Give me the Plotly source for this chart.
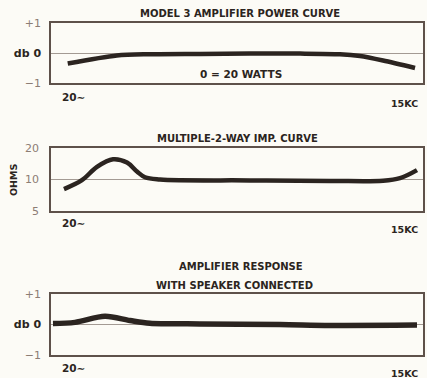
import plotly.graph_objects as go

# ---- data ----
power_freq = [18, 48, 93, 253, 689, 1871, 4160, 6210, 9840, 18660]
power_db = [-0.35, -0.08, -0.04, -0.03, -0.02, -0.02, -0.04, -0.1, -0.25, -0.5]

imp_freq = [16.7, 23.9, 32.3, 44.5, 58.9, 71.9, 84.4, 113.9, 689, 3410, 9840, 13800, 19400]
imp_ohms = [8.1, 9.85, 13.2, 15.6, 14.5, 11.9, 10.5, 10.0, 9.8, 9.7, 9.74, 10.3, 12.3]

resp_freq = [13.4, 20.8, 37.9, 62.5, 93, 253, 1253, 3410, 19400]
resp_db = [0.03, 0.07, 0.27, 0.13, 0.04, 0.02, 0.0, -0.03, -0.02]

titles = ["MODEL 3 AMPLIFIER POWER CURVE", "MULTIPLE-2-WAY IMP. CURVE",
          "AMPLIFIER RESPONSE", "WITH SPEAKER CONNECTED"]
x_ticks = [20, 15000]
x_ticktext = ["20∼", "15KC"]
db_ticks = [-1, 0, 1]
db_ticktext = ["−1", "db 0", "+1"]
ohm_ticks = [5, 10, 20]
ohm_ticktext = ["5", "10", "20"]
note_text = "0 = 20 WATTS"
ohm_label = "OHMS"

# ---- styling ----
BG = "#fcfbf6"
INK = "#2b2420"
LIGHT = "#8c7d74"
BOX = "#5e514a"
GRID = "#a39a93"
FONT = "DejaVu Sans"
W, H = 427, 378

def py(px):
    return 1 - px / H

def pxx(px):
    return px / W

XDOM = [51 / W, 423 / W]
XRANGE = [1.11, 4.34]

fig = go.Figure()

series = [(power_freq, power_db, "x", "y", 4.5, 0.8),
          (imp_freq, imp_ohms, "x2", "y2", 4.5, 1.0),
          (resp_freq, resp_db, "x3", "y3", 5.5, 0.9)]
for xs, ys, xa, ya, lw, sm in series:
    fig.add_trace(go.Scatter(x=xs, y=ys, xaxis=xa, yaxis=ya, mode="lines",
                             line=dict(color=INK, width=lw, shape="spline", smoothing=sm),
                             hoverinfo="skip", showlegend=False))

domains = [(23, 83), (148, 211), (294, 355)]
axis_common = dict(showline=True, mirror=True, linecolor=BOX, linewidth=1.5,
                   zeroline=False, ticks="", showgrid=False, automargin=False)

def dbtext():
    return [f'<span style="color:{LIGHT}">{db_ticktext[0]}</span>',
            f'<span style="color:{INK}"><b>{db_ticktext[1]}</b></span>',
            f'<span style="color:{LIGHT}">{db_ticktext[2]}</span>']

layout = dict(template="none", width=W, height=H, margin=dict(l=0, r=0, t=0, b=0, pad=0),
              paper_bgcolor=BG, plot_bgcolor=BG, showlegend=False,
              font=dict(family=FONT, color=INK, size=10))

for i, (top, bot) in enumerate(domains):
    sx = "" if i == 0 else str(i + 1)
    layout["xaxis" + sx] = dict(axis_common, type="log", range=XRANGE, domain=XDOM,
                               showticklabels=False, anchor="y" + sx)
    if i == 1:
        layout["yaxis" + sx] = dict(axis_common, type="log", range=[0.69897, 1.30103],
                                   domain=[py(bot), py(top)], anchor="x" + sx,
                                   tickvals=ohm_ticks, ticktext=ohm_ticktext,
                                   tickfont=dict(color=LIGHT, size=11, family=FONT),
                                   showgrid=True, gridcolor=GRID, gridwidth=1,
                                   ticklabelstandoff=8)
    else:
        layout["yaxis" + sx] = dict(axis_common, range=[-1, 1],
                                   domain=[py(bot), py(top)], anchor="x" + sx,
                                   tickvals=db_ticks, ticktext=dbtext(),
                                   tickfont=dict(size=11, family=FONT),
                                   showgrid=True, gridcolor=GRID, gridwidth=1,
                                   ticklabelstandoff=6)

fig.update_layout(**layout)

anns = []
title_pos = [(240, 14), (238, 138), (241, 266), (235, 285)]
for t, (tx, ty) in zip(titles, title_pos):
    anns.append(dict(text="<b>" + t + "</b>", x=pxx(tx), y=py(ty), xref="paper", yref="paper",
                     showarrow=False, font=dict(size=10, color=INK, family=FONT),
                     xanchor="center", yanchor="middle"))

# x labels per panel
xlab_y = [(97, 103), (223, 229), (368, 373)]
for i, (y20, y15) in enumerate(xlab_y):
    sx = "" if i == 0 else str(i + 1)
    anns.append(dict(text="<b>" + x_ticktext[0] + "</b>", x=1.301, xref="x" + sx,
                     y=py(y20), yref="paper", showarrow=False,
                     font=dict(size=10.5, color=INK, family=FONT), xanchor="center", yanchor="middle"))
    anns.append(dict(text="<b>" + x_ticktext[1] + "</b>", x=4.176, xref="x" + sx,
                     y=py(y15), yref="paper", showarrow=False,
                     font=dict(size=9.5, color=INK, family=FONT), xanchor="center", yanchor="middle"))

anns.append(dict(text="<b>" + note_text + "</b>", x=2.76, xref="x", y=py(74), yref="paper",
                 showarrow=False, font=dict(size=10.5, color=INK, family=FONT),
                 xanchor="center", yanchor="middle"))
anns.append(dict(text="<b>" + ohm_label + "</b>", x=pxx(13), xref="paper", y=py(180), yref="paper",
                 showarrow=False, textangle=-90, font=dict(size=9.5, color=INK, family=FONT),
                 xanchor="center", yanchor="middle"))

fig.update_layout(annotations=anns)
fig.write_html("out.html", config={"displayModeBar": False, "responsive": False},
               post_script="document.body.style.margin='0';document.body.style.overflow='hidden';document.body.style.background='" + BG + "';")
